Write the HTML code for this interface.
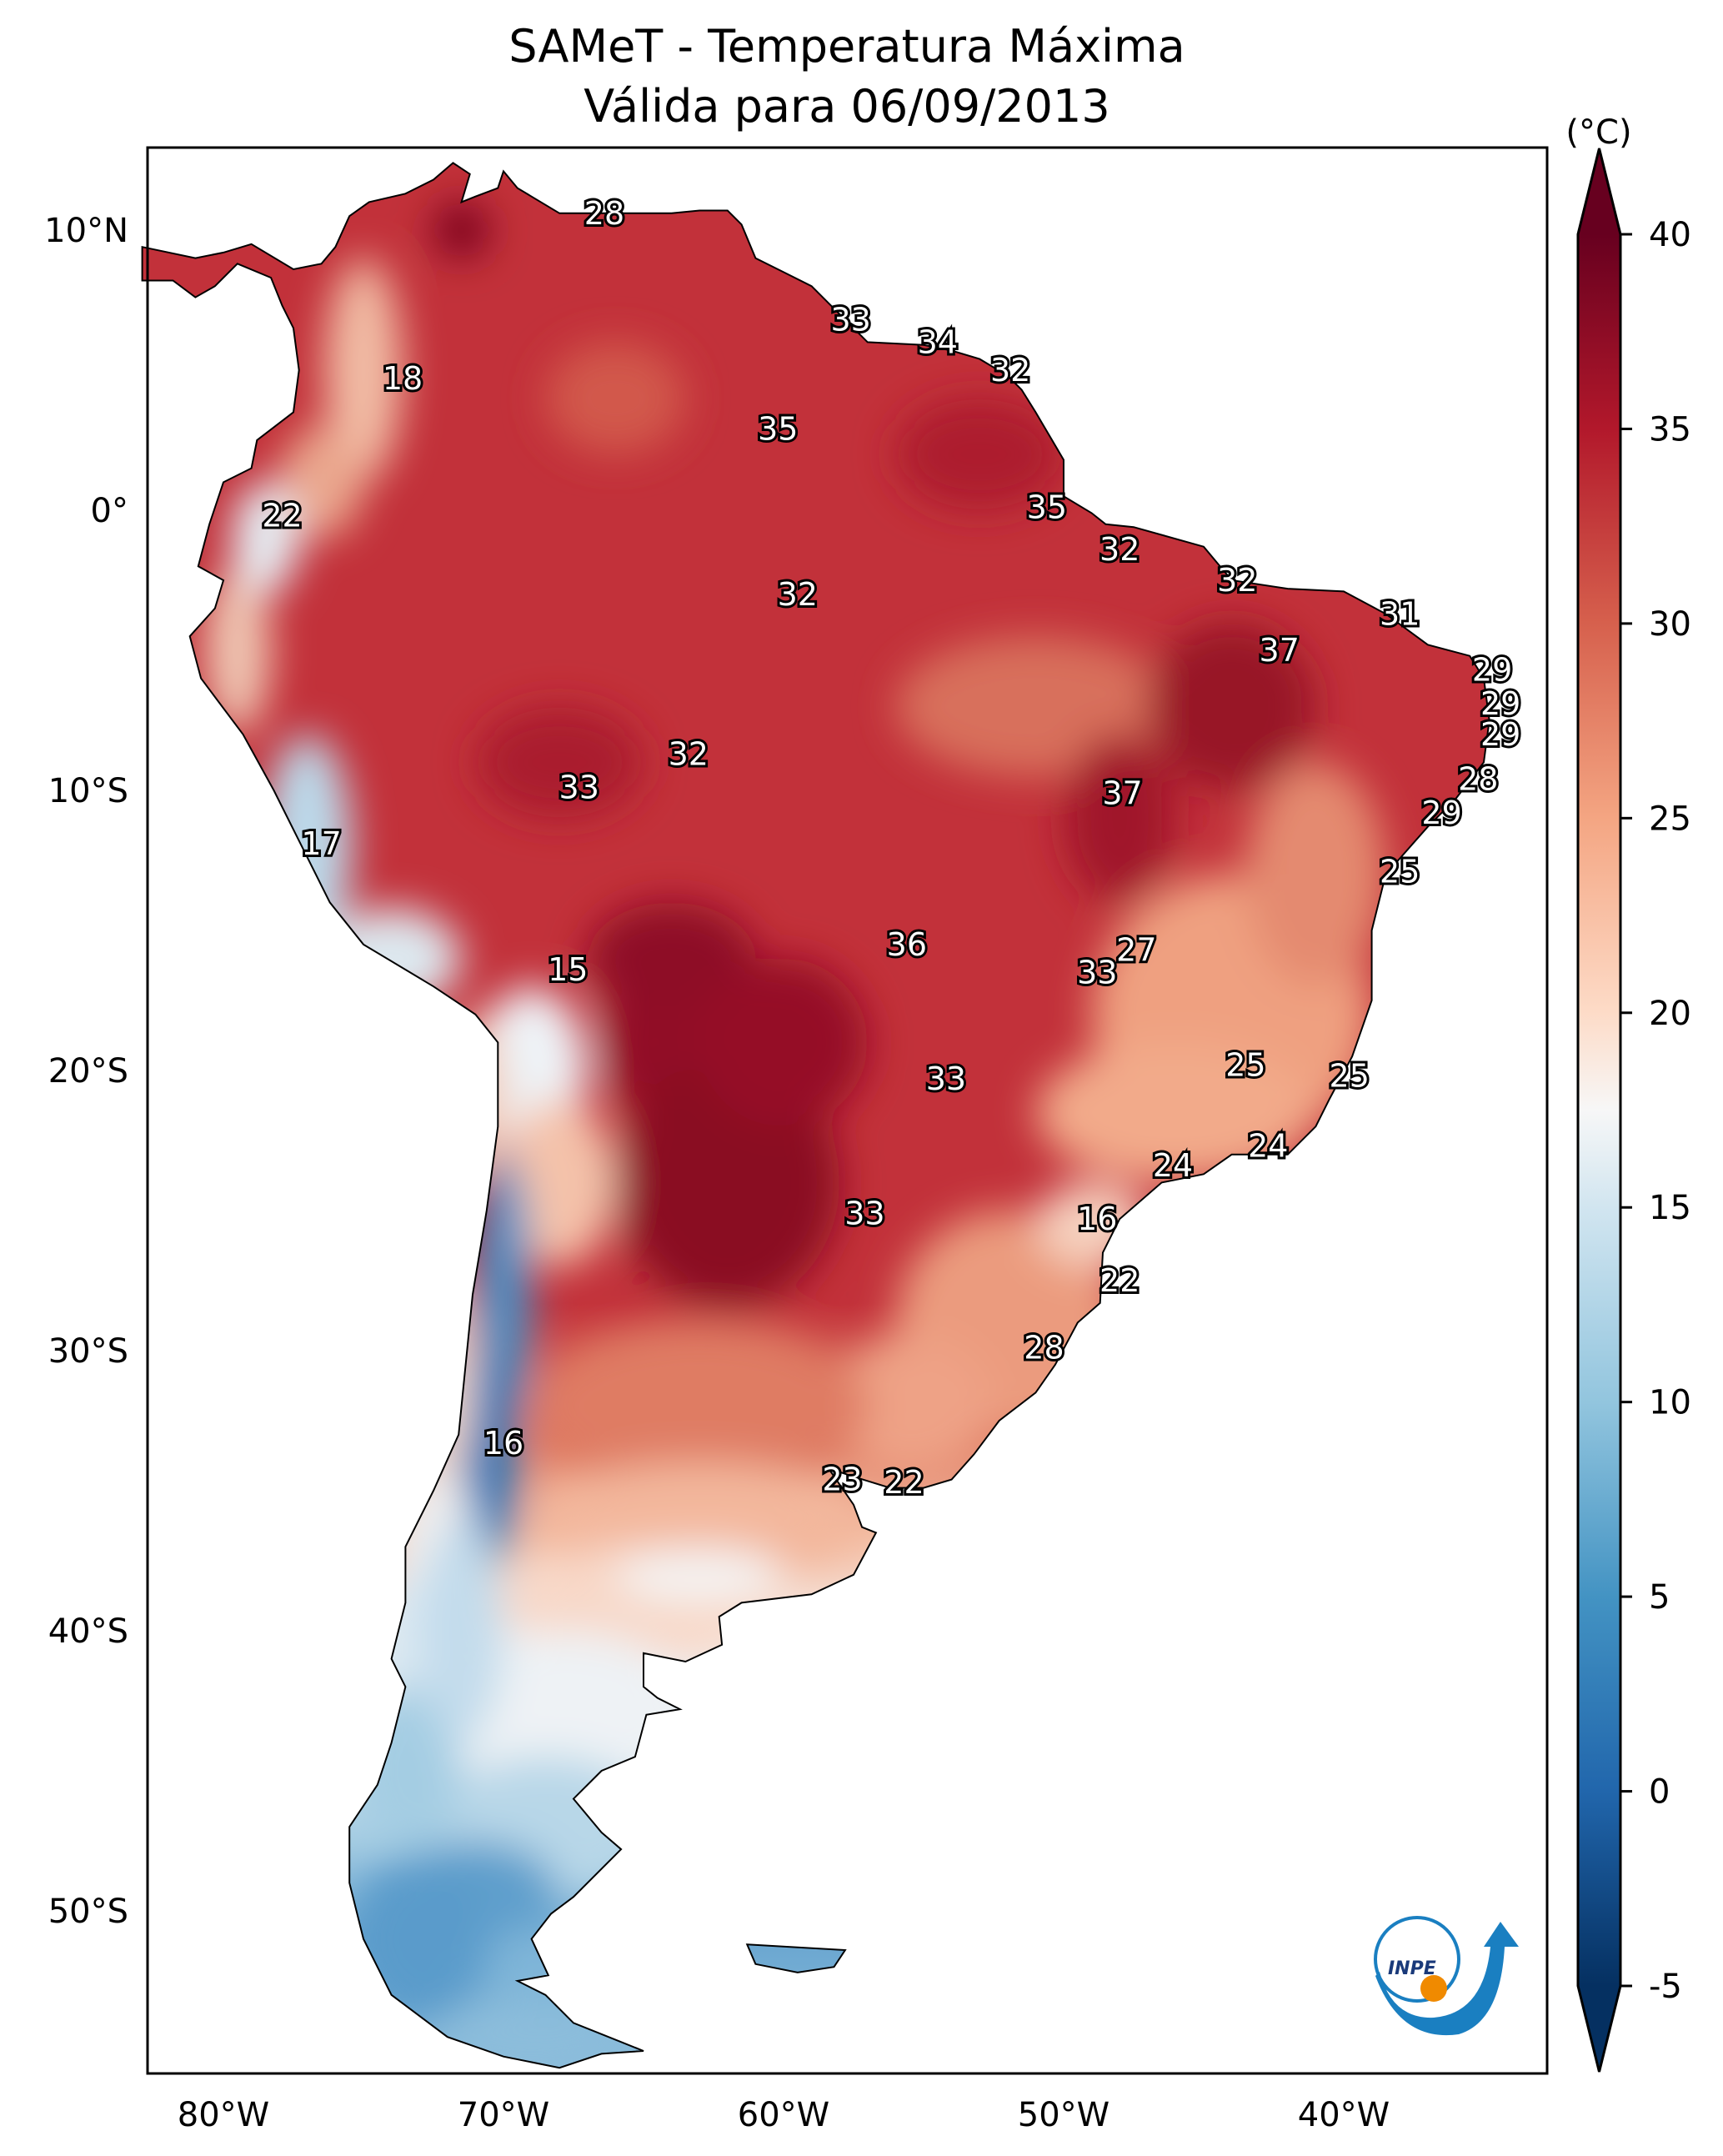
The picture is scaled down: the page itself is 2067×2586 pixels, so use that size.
<!DOCTYPE html>
<html><head><meta charset="utf-8">
<style>
html,body{margin:0;padding:0;background:#fff;}
svg{display:block;font-family:"DejaVu Sans","Liberation Sans",sans-serif;}
.lbl{font-size:38px;fill:#fff;stroke:#000;stroke-width:6px;paint-order:stroke;text-anchor:middle;dominant-baseline:central;}
.tick{font-size:40px;fill:#000;}
</style></head>
<body>
<svg id="chart" width="2067" height="2586" viewBox="0 0 2067 2586" xmlns="http://www.w3.org/2000/svg">
<defs>
<clipPath id="landclip"><path id="landclip-path"/></clipPath>
<filter id="blur" filterUnits="userSpaceOnUse" x="0" y="0" width="2067" height="2586"><feGaussianBlur stdDeviation="24"/></filter>
<linearGradient id="basegrad" gradientUnits="userSpaceOnUse" x1="0" y1="177" x2="0" y2="2487">
<stop offset="0" stop-color="#c2313a"/>
<stop offset="0.60" stop-color="#c2313a"/>
<stop offset="0.67" stop-color="#de7a62"/>
<stop offset="0.72" stop-color="#f3bda3"/>
<stop offset="0.77" stop-color="#f6ebe6"/>
<stop offset="0.83" stop-color="#d8e8f2"/>
<stop offset="0.88" stop-color="#a3cbe2"/>
<stop offset="0.93" stop-color="#6aa6d0"/>
<stop offset="1" stop-color="#8cbddb"/>
</linearGradient>
<linearGradient id="cbgrad" x1="0" y1="1" x2="0" y2="0">
<stop offset="0" stop-color="#053061"/><stop offset="0.111" stop-color="#2166ac"/>
<stop offset="0.222" stop-color="#4393c3"/><stop offset="0.333" stop-color="#92c5de"/>
<stop offset="0.444" stop-color="#d1e5f0"/><stop offset="0.5" stop-color="#f7f7f7"/>
<stop offset="0.556" stop-color="#fddbc7"/><stop offset="0.667" stop-color="#f4a582"/>
<stop offset="0.778" stop-color="#d6604d"/><stop offset="0.889" stop-color="#b2182b"/>
<stop offset="1" stop-color="#67001f"/></linearGradient>
</defs>
<text x="1016" y="74" font-size="54" text-anchor="middle">SAMeT - Temperatura Máxima</text>
<text x="1016" y="146" font-size="54" text-anchor="middle">Válida para 06/09/2013</text>
<g id="map"></g>
<rect x="177" y="177" width="1679" height="2310" fill="none" stroke="#000" stroke-width="3"/>
<g id="axes"></g>
<g id="colorbar"></g>
<g transform="translate(1710,2360)">
<circle cx="-10" cy="-10" r="50" fill="none" stroke="#1a7fc1" stroke-width="4"/>
<path d="M-60,10 Q-30,90 40,80 Q90,65 95,-25 L78,-25 Q70,55 10,60 Q-40,62 -55,5 Z" fill="#1a7fc1"/>
<path d="M70,-25 L90,-55 L112,-25 Z" fill="#1a7fc1"/>
<circle cx="10" cy="25" r="16" fill="#f08a00"/>
<text x="-45" y="8" font-size="22" font-style="italic" font-weight="bold" fill="#1a3a7a">INPE</text>
</g>
</svg>
<script>
const labelValues=[28,33,34,32,18,35,35,22,32,32,32,31,37,29,29,29,32,33,37,28,29,17,25,36,27,15,33,25,25,33,24,24,33,16,22,28,16,23,22];
const labelLon=[-66.4,-57.6,-54.5,-51.9,-73.6,-60.2,-50.6,-77.9,-48.0,-43.8,-59.5,-38.0,-42.3,-34.7,-34.4,-34.4,-63.4,-67.3,-47.9,-35.2,-36.5,-76.5,-38.0,-55.6,-47.4,-67.7,-48.8,-43.5,-39.8,-54.2,-42.7,-46.1,-57.1,-48.8,-48.0,-50.7,-70.0,-57.9,-55.7];
const labelLat=[10.6,6.8,6.0,5.0,4.7,2.9,0.1,-0.2,-1.4,-2.5,-3.0,-3.7,-5.0,-5.7,-6.9,-8.0,-8.7,-9.9,-10.1,-9.6,-10.8,-11.9,-12.9,-15.5,-15.7,-16.4,-16.5,-19.8,-20.2,-20.3,-22.7,-23.4,-25.1,-25.3,-27.5,-29.9,-33.3,-34.6,-34.7];
const latTicks=[10,0,-10,-20,-30,-40,-50];
const latTickLabels=["10°N","0°","10°S","20°S","30°S","40°S","50°S"];
const lonTicks=[-80,-70,-60,-50,-40];
const lonTickLabels=["80°W","70°W","60°W","50°W","40°W"];
const cbTicks=[40,35,30,25,20,15,10,5,0,-5];

const NS='http://www.w3.org/2000/svg';
const S=33.6;
function X(lon){return 268+(lon+80)*S;}
function Y(lat){return 612-lat*S;}
function CB(v){return 281+(40-v)*(2382-281)/45;}
function mk(t,a,p){const e=document.createElementNS(NS,t);for(const k in a)e.setAttribute(k,a[k]);p.appendChild(e);return e;}

const coast=[[-82.9,9.4],[-81,9],[-80,9.2],[-79,9.5],[-77.5,8.6],[-76.5,8.8],[-76,9.4],[-75.5,10.5],[-74.8,11],[-73.5,11.3],[-72.5,11.8],[-71.8,12.4],[-71.2,12],[-71.5,11],[-71,11.2],[-70.2,11.5],[-70,12.1],[-69.5,11.5],[-68,10.6],[-66,10.6],[-64,10.6],[-63,10.7],[-62,10.7],[-61.5,10.2],[-61,9],[-60,8.5],[-59,8],[-58,7],[-57,6],[-55,5.9],[-54,5.7],[-53,5.4],[-52,4.8],[-51.5,4.3],[-51,3.5],[-50,1.8],[-50,0.5],[-49,-0.1],[-48.5,-0.5],[-47.5,-0.6],[-45,-1.3],[-44,-2.5],[-42,-2.8],[-40,-2.9],[-38.5,-3.7],[-37,-4.8],[-35.5,-5.2],[-35,-6],[-34.8,-7.5],[-35,-9],[-36,-10.3],[-37,-11.3],[-38.5,-13],[-39,-15],[-39,-17.5],[-39.7,-19.5],[-40.5,-21],[-41,-22],[-42,-23],[-44,-23],[-45,-23.7],[-46.5,-24],[-48,-25.3],[-48.6,-26.5],[-48.7,-28.3],[-49.5,-29],[-50.3,-30.5],[-51,-31.5],[-52.3,-32.5],[-53.2,-33.7],[-54,-34.6],[-55,-34.9],[-56.2,-34.9],[-57.5,-34.5],[-58.4,-34.2],[-57.5,-35.5],[-57.2,-36.3],[-56.7,-36.5],[-57.5,-38],[-59,-38.7],[-61.5,-39],[-62.3,-39.5],[-62.2,-40.5],[-63.5,-41.1],[-65,-40.8],[-65,-42],[-64.5,-42.4],[-63.7,-42.8],[-64.9,-43],[-65.3,-44.5],[-66.5,-45],[-67.5,-46],[-66.5,-47.2],[-65.8,-47.8],[-67.5,-49.5],[-68.3,-50.1],[-69,-51],[-68.4,-52.3],[-69.5,-52.5],[-68.5,-53],[-67.5,-54],[-66,-54.6],[-65,-55],[-66.5,-55.1],[-68,-55.6],[-70,-55.2],[-72,-54.5],[-74,-53],[-75,-51],[-75.5,-49],[-75.5,-47],[-74.5,-45.5],[-74,-44],[-73.5,-42],[-74,-41],[-73.5,-39],[-73.5,-37],[-72.5,-35],[-71.6,-33],[-71.3,-30],[-71.1,-28],[-70.6,-25],[-70.2,-22],[-70.2,-19],[-71,-18],[-72.5,-17],[-75,-15.5],[-76.2,-14],[-77.2,-12],[-78.2,-10],[-79.3,-8],[-80.8,-6],[-81.2,-4.5],[-80.3,-3.5],[-80,-2.5],[-80.9,-2],[-80.5,-0.5],[-80,1],[-79,1.5],[-78.8,2.5],[-77.5,3.5],[-77.3,5],[-77.5,6.5],[-77.9,7.3],[-78.3,8.3],[-79.5,8.8],[-80.3,8],[-81,7.6],[-81.8,8.2],[-82.9,8.2]];
const falk=[[-61.3,-51.2],[-59.5,-51.3],[-57.8,-51.4],[-58.2,-52],[-59.5,-52.2],[-61,-51.9]];
function pathOf(pts){return 'M'+pts.map(p=>X(p[0]).toFixed(1)+','+Y(p[1]).toFixed(1)).join('L')+'Z';}
const landD=pathOf(coast)+pathOf(falk);
document.getElementById('landclip-path').setAttribute('d',landD);

const map=document.getElementById('map');
const heat=mk('g',{'clip-path':'url(#landclip)'},map);
mk('rect',{x:0,y:0,width:2067,height:2586,fill:'url(#basegrad)'},heat);
const blobs=[
[-51,-7,5,2.5,'#d8705c'],[-66,4,2.5,2,'#d2584c'],[-53,2,3,2,'#ad1a2e'],
[-63,-19,3.5,3.5,'#920f26'],[-64,-16,3,2,'#8e0d25'],[-62,-24,4,4.5,'#8a0b24'],[-60,-19,3,3,'#950f26'],[-44,-7,3,3,'#981228'],[-48,-11,2,3,'#a0142a'],[-71.5,10,1,1,'#7a0622'],[-68,-9,3,2,'#aa1a2d'],
[-75,5,1.4,4,'#f1bca4'],[-76.5,1,1.5,2,'#eaa78e'],
[-44,-18,5,5,'#efa080'],[-46,-21.5,5,2.5,'#f2aa8a'],[-41,-13,2.5,4,'#e48a70'],[-52,-29,4,4,'#eb9b7e'],[-55.5,-32,3,2.5,'#eea286'],[-49,-25.5,2,1.5,'#f6d2c0'],
[-63,-32,6,3,'#df7c64'],[-63,-36,6,2,'#f3b79c'],[-65,-39,5,2,'#f8d8c8'],[-63,-38,3,1,'#f4f2f1'],
[-68,-43,5,3,'#eef2f5'],[-68.5,-47,4,2.5,'#b8d7e8'],[-71,-49.5,3,2,'#5e9fcc'],[-68,-52,3,1.5,'#7fb5d8'],[-69,-54.5,4,1.3,'#8cbddb'],[-73,-51,2.5,3,'#5a9bcb'],
[-69,-20,2,3,'#eef3f7'],[-68,-24,2,3,'#f4c2aa'],[-70,-28,1,5,'#4c90c5'],[-70.5,-34,1,4,'#2e78b7'],
[-72.3,-31,1.2,4,'#f4d8ca'],[-72.5,-37,1.5,3,'#f0eeee'],[-73,-41,2,3,'#dce9f2'],[-73.5,-45,2,3,'#a4cde3'],[-71.5,-40,1.5,4,'#c3dcec'],
[-77,-12,1.6,4,'#bcd9ea'],[-74,-16,2.5,1.8,'#dde8ef'],[-79.5,-5,1.2,3,'#efc6b2'],[-78.5,-1,1.2,2,'#e5eef4'],[-71,-21,1,3,'#f2c6b0']
];
const bg=mk('g',{filter:'url(#blur)'},heat);
blobs.forEach(b=>{mk('ellipse',{cx:X(b[0]),cy:Y(b[1]),rx:b[2]*S,ry:b[3]*S,fill:b[4]},bg);});
const coastPath=mk('path',{d:landD,fill:'none',stroke:'#000','stroke-width':2},map);



const labels=mk('g',{},map);
labelValues.forEach((v,i)=>{
 const t=mk('text',{x:X(labelLon[i]),y:Y(labelLat[i]),class:'lbl'},labels);
 
 
 t.textContent=v;
});

const axes=document.getElementById('axes');
latTicks.forEach((la,i)=>{
 const t=mk('text',{x:154,y:Y(la)+14,class:'tick','text-anchor':'end'},axes);
 
 
 t.textContent=latTickLabels[i];
});
lonTicks.forEach((lo,i)=>{
 const t=mk('text',{x:X(lo),y:2550,class:'tick','text-anchor':'middle'},axes);
 
 
 t.textContent=lonTickLabels[i];
});

const cb=document.getElementById('colorbar');
const x0=1893,x1=1944,xm=1918.5;
mk('path',{d:`M${x0},${CB(40)}L${xm},178L${x1},${CB(40)}Z`,fill:'#67001f'},cb);
mk('path',{d:`M${x0},${CB(-5)}L${xm},2485L${x1},${CB(-5)}Z`,fill:'#053061'},cb);
mk('rect',{x:x0,y:CB(40),width:x1-x0,height:CB(-5)-CB(40),fill:'url(#cbgrad)'},cb);
mk('path',{d:`M${x0},${CB(40)}L${xm},178L${x1},${CB(40)}L${x1},${CB(-5)}L${xm},2485L${x0},${CB(-5)}Z`,fill:'none',stroke:'#000','stroke-width':3},cb);
cbTicks.forEach(v=>{
 mk('line',{x1:x1,x2:x1+14,y1:CB(v),y2:CB(v),stroke:'#000','stroke-width':3},cb);
 const t=mk('text',{x:1978,y:CB(v)+14,class:'tick'},cb);
 
 
 t.textContent=v;
});
const u=mk('text',{x:1918,y:172,class:'tick','text-anchor':'middle'},cb);


u.textContent='(°C)';
</script>
</body></html>
